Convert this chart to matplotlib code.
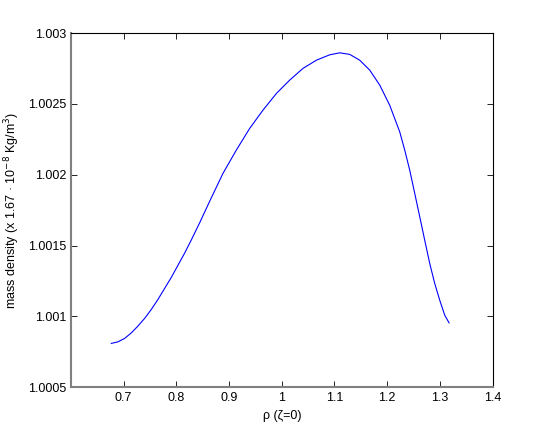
import matplotlib.pyplot as plt

plt.rcParams['font.family'] = ['Liberation Sans', 'DejaVu Sans']

# curve
rho = [0.6767, 0.6892, 0.7019, 0.7146, 0.7271, 0.7398, 0.7526, 0.7651,
       0.7778, 0.7905, 0.8030, 0.8157, 0.8285, 0.8442, 0.8632, 0.8884,
       0.9138, 0.9391, 0.9643, 0.9898, 1.0150, 1.0402, 1.0657, 1.0909,
       1.1099, 1.1288, 1.1478, 1.1668, 1.1858, 1.2047, 1.2237, 1.2332,
       1.2427, 1.2522, 1.2617, 1.2711, 1.2806, 1.2901, 1.2996, 1.3091,
       1.3173]
density = [1.000809, 1.000820, 1.000844, 1.000883, 1.000931, 1.000985, 1.001049, 1.001119,
           1.001197, 1.001275, 1.001360, 1.001446, 1.001540, 1.001660, 1.001812, 1.002009,
           1.002174, 1.002327, 1.002456, 1.002574, 1.002668, 1.002751, 1.002809, 1.002847,
           1.002861, 1.002850, 1.002809, 1.002739, 1.002633, 1.002491, 1.002303, 1.002174,
           1.002032, 1.001868, 1.001703, 1.001538, 1.001374, 1.001232, 1.001114, 1.001008,
           1.000954]

xticks = [0.7, 0.8, 0.9, 1.0, 1.1, 1.2, 1.3, 1.4]
xticklabels = ['0.7', '0.8', '0.9', '1', '1.1', '1.2', '1.3', '1.4']
yticks = [1.0005, 1.001, 1.0015, 1.002, 1.0025, 1.003]
yticklabels = ['1.0005', '1.001', '1.0015', '1.002', '1.0025', '1.003']

fig = plt.figure(figsize=(5.45, 4.36), dpi=100)
ax = fig.add_axes([0.13, 0.112, 0.774, 0.812])
ax.plot(rho, density, color='#0000ff', linewidth=0.8)

ax.set_xlim(0.6, 1.4)
ax.set_ylim(1.0005, 1.003)
ax.set_xticks(xticks)
ax.set_xticklabels(xticklabels)
ax.set_yticks(yticks)
ax.set_yticklabels(yticklabels)
ax.tick_params(direction='in', top=True, right=True, labelsize=9, length=4, width=0.6)

for side in ['left', 'bottom']:
    ax.spines[side].set_color('#808080')
    ax.spines[side].set_linewidth(1.5)
for side in ['top', 'right']:
    ax.spines[side].set_linewidth(0.8)

ax.set_xlabel('ρ (ζ=0)', fontsize=9)
ax.set_ylabel('mass density (x 1.67 · 10$^{-8}$ Kg/m$^3$)', fontsize=9)

plt.savefig('out.png', dpi=100)
